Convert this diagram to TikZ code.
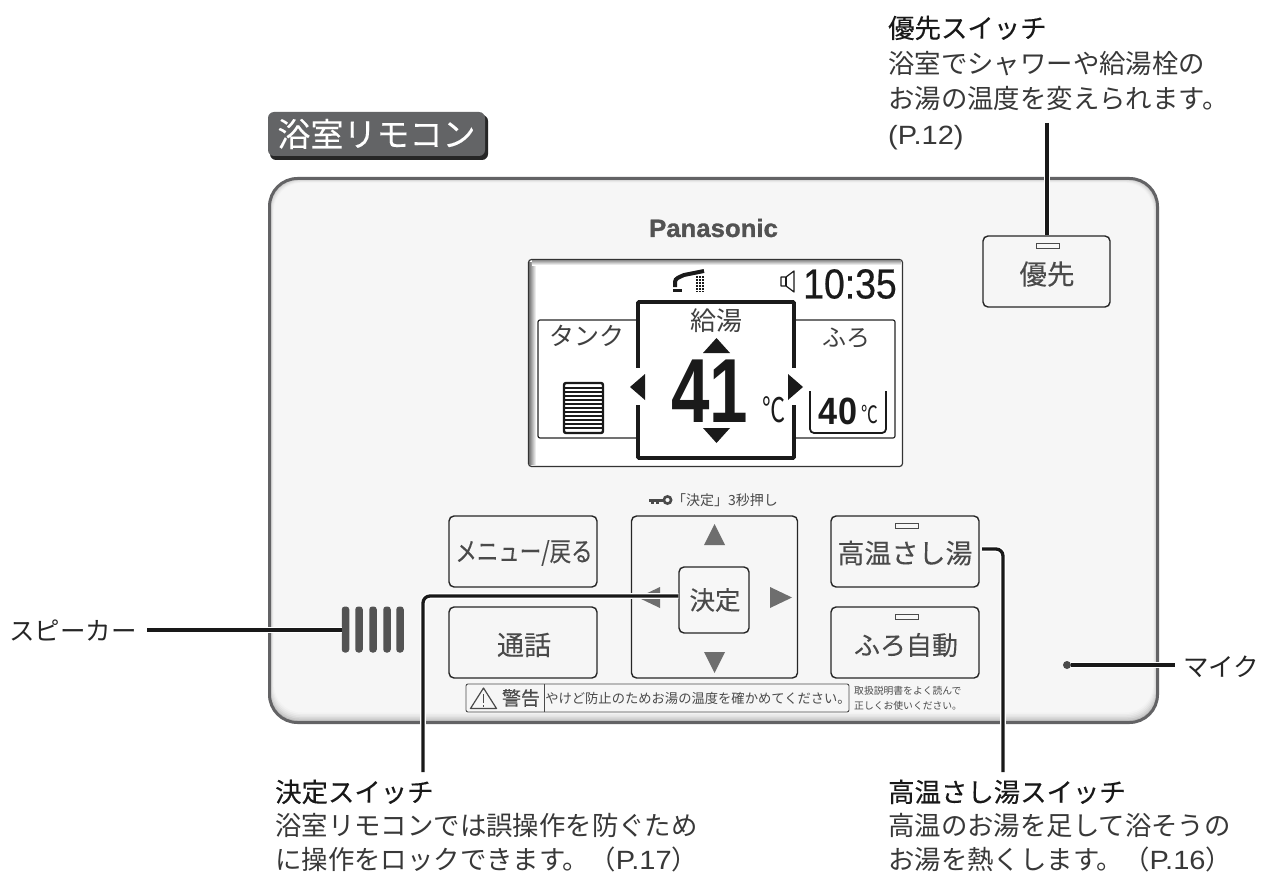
\documentclass[tikz,border=0pt]{standalone}
\usepackage{fontspec}
\usepackage{graphicx}
\setmainfont{Noto Sans CJK JP}
\newfontfamily\jphead[FakeBold=0.2]{Noto Sans CJK JP}
\newfontfamily\jpmid[FakeBold=0.12]{Noto Sans CJK JP}
\newfontfamily\latinsans[BoldFeatures={FakeBold=1.2}]{Liberation Sans}
\newfontfamily\digitsans{Liberation Sans}
\newfontfamily\clocksans[FakeBold=0.5]{Liberation Sans}
\definecolor{panelfill}{HTML}{F7F7F7}
\definecolor{panelline}{HTML}{636365}
\definecolor{ink}{HTML}{4A4A4A}
\definecolor{tabfill}{HTML}{636466}
\definecolor{arrowgray}{HTML}{6E6E6E}
\definecolor{lcdink}{HTML}{1A1A1A}
\newcommand{\fs}[2]{\fontsize{#1}{#2}\selectfont}
\newcommand{\pg}[1]{{\digitsans\scalebox{1.1}[1]{#1}}}
\tikzset{
  btn/.style={draw=black!85,line width=1.4pt,rounded corners=5pt,inner sep=0pt},
  btntxt/.style={inner sep=0pt,text=ink},
  lamp/.style={draw=ink,line width=1pt,fill=panelfill,minimum width=23pt,minimum height=5pt,inner sep=0pt},
  callout/.style={line width=3.3pt,draw=black!90,rounded corners=7pt,preaction={draw=white,line width=5.8pt}},
  captxt/.style={anchor=north west,align=left,inner sep=0pt,text=black!78,font=\fs{26.4}{35.4}},
  captxtlow/.style={captxt,font=\fs{26.4}{34}},
  tri/.style={fill=arrowgray,draw=none},
  ltri/.style={fill=lcdink,draw=none},
  grille/.style={fill=ink!95,draw=none,rounded corners=3pt},
  lcdtxt/.style={inner sep=0pt,text=lcdink},
}
\begin{document}
\begin{tikzpicture}[x=1pt,y=-1pt]
\useasboundingbox (0,0) rectangle (1262,872);
\fill[white] (0,0) rectangle (1262,872);

% title tab
\fill[black!85,rounded corners=6pt] (270,115) rectangle (488,160);
\node[fill=tabfill,rounded corners=6pt,minimum width=217pt,minimum height=44pt,inner sep=0pt,text=white,font=\jphead\fs{33}{33}] (tab) at (376.5,134) {浴室リモコン};

% panel
\fill[black!22,rounded corners=28pt] (269,178) rectangle (1158,723);
\foreach \i/\c in {1/26,2/20,3/15,4/11,5/8,6/5,7/3.5}{
  \fill[black!\c,rounded corners=28pt] (269+\i*0.7,178+\i*0.7) rectangle (1158-\i*0.7,723-\i*1.5);
}
\node[draw=panelline,line width=3pt,rounded corners=28pt,minimum width=888pt,minimum height=544pt,inner sep=0pt] (panel) at (713.5,450.5) {};
\node[lcdtxt,font=\latinsans\bfseries\fs{25}{25},text=black!68] (brand) at (713.5,228) {\scalebox{1.03}[1]{Panasonic}};

% LCD
\node[draw=black!80,line width=1.2pt,fill=white,rounded corners=3pt,minimum width=374pt,minimum height=207pt,inner sep=0pt] (lcd) at (715.5,363) {};
\shade[left color=black!55,right color=white] (529,262) rectangle (536,464);
\shade[top color=black!45,bottom color=white] (532,260) rectangle (901,265);
\draw[black!85,line width=1.2pt,rounded corners=2pt,fill=white] (538,320) rectangle (895,438);
\draw[lcdink,line width=3.6pt,fill=white,rounded corners=1pt] (638,302) rectangle (794,458);
\fill[white] (632,368) rectangle (644,405);
\fill[white] (788,368) rectangle (800,405);
\fill[ltri] (630,387) -- (645,374) -- (645,400) -- cycle;
\fill[ltri] (803,387) -- (788,374) -- (788,400) -- cycle;
\fill[ltri] (716.5,338) -- (730,353) -- (703,353) -- cycle;
\fill[ltri] (716.5,443) -- (730,428) -- (703,428) -- cycle;
\node[lcdtxt,font=\fs{26}{26},text=black!75] (lcdmain) at (716,321) {給湯};
\node[lcdtxt,font=\fs{25}{25},text=black!75] (lcdtank) at (587,336) {タンク};
\node[lcdtxt,font=\fs{24}{24},text=black!75] (lcdbath) at (846,338) {ふろ};
\node[lcdtxt,font=\digitsans\bfseries\fs{91}{91}] (lcdtemp) at (709.5,391) {\scalebox{0.76}[1]{41}};
\node[lcdtxt,font=\fs{34}{34}] (lcddeg) at (774,410) {\scalebox{0.68}[1]{℃}};
\node[lcdtxt,font=\clocksans\fs{42}{42}] (lcdclock) at (850,284) {\scalebox{0.89}[1]{10:35}};
% speaker symbol
\draw[lcdink,line width=1.2pt,line join=round] (781,277) -- (786,277) -- (794,271) -- (794,292) -- (786,286) -- (781,286) -- cycle;
\draw[lcdink,line width=1.2pt] (786,277) -- (786,286);
% shower symbol
\draw[lcdink,line width=4pt] (675,287) -- (675,282) .. controls (675,278) and (680,277) .. (684,275) -- (704,271);
\fill[lcdink] (673,289) rectangle (682,292);
\foreach \xx in {697,700,703}{\draw[lcdink,line width=1.6pt,dash pattern=on 2pt off 1pt] (\xx,276) -- (\xx,292);}
% tank gauge
\draw[lcdink,line width=2.4pt,rounded corners=2pt] (564,383) rectangle (603,433);
\foreach \yy in {388,392,...,430}{\draw[lcdink,line width=1.8pt] (565,\yy) -- (602,\yy);}
% bath gauge
\draw[lcdink,line width=1.8pt,rounded corners=4pt] (810,391) -- (810,433) -- (886,433) -- (886,391);
\node[lcdtxt,font=\digitsans\fs{38}{38}] (lcdset) at (838,411) {\scalebox{0.9}[1]{\textbf{40}}};
\node[lcdtxt,font=\fs{24}{24}] (lcdsetdeg) at (870,414) {\scalebox{0.7}[1]{℃}};

% key note
\node[inner sep=0pt,text=ink,font=\fs{14}{14}] (keynote) at (725,500) {「決定」3秒押し};
\fill[ink] (649,498.5) rectangle (664,502);
\fill[ink] (651,502) rectangle (654,504);
\fill[ink] (656,502) rectangle (659,504);
\draw[ink,line width=2.6pt,fill=panelfill] (667.5,500) circle (3.6pt);

% buttons
\node[btn,minimum width=148pt,minimum height=71pt] (bmenu) at (523,551.5) {};
\node[btn,minimum width=148pt,minimum height=71pt] (btalk) at (523,642.5) {};
\node[btn,minimum width=166pt,minimum height=162pt] (bpad) at (714.5,597) {};
\node[btn,minimum width=70pt,minimum height=66pt,fill=panelfill] (bok) at (714,600) {};
\node[btn,minimum width=148pt,minimum height=71pt] (bhot) at (905,551.5) {};
\node[btn,minimum width=148pt,minimum height=71pt] (bauto) at (905,642.5) {};
\node[btn,minimum width=127pt,minimum height=71pt] (bprio) at (1046.5,271.5) {};
\node[btntxt,font=\jpmid\fs{26.5}{26.5}] (lmenu) at (524,553) {\scalebox{0.81}[1]{メニュー/戻る}};
\node[btntxt,font=\jpmid\fs{27}{27}] (ltalk) at (524,645) {通話};
\node[btntxt,font=\jpmid\fs{25.5}{25.5}] (lok) at (715,600) {決定};
\node[btntxt,font=\jpmid\fs{27}{27}] (lhot) at (905,553) {高温さし湯};
\node[btntxt,font=\jpmid\fs{26}{26}] (lauto) at (906,645) {ふろ自動};
\node[btntxt,font=\jpmid\fs{27.5}{27.5}] (lprio) at (1047,274) {優先};
\node[lamp] (lamphot) at (906.5,525.5) {};
\node[lamp] (lampauto) at (906.5,616.5) {};
\node[lamp] (lampprio) at (1047.5,245.5) {};
\fill[tri] (714.5,524) -- (725,545) -- (704,545) -- cycle;
\fill[tri] (714.5,673) -- (725,652) -- (704,652) -- cycle;
\fill[tri] (792,597.5) -- (770,587) -- (770,608) -- cycle;
\fill[tri] (638,597.5) -- (660,587) -- (660,608) -- cycle;

% warning strip
\node[draw=ink,line width=0.9pt,rounded corners=2pt,minimum width=383pt,minimum height=28pt,inner sep=0pt] (warn) at (657.5,698) {};
\draw[ink,line width=0.9pt] (544,684) -- (544,712);
\draw[ink,line width=1.2pt,line join=round] (483.5,688) -- (496.5,708.5) -- (470.5,708.5) -- cycle;
\fill[ink] (482.6,694) rectangle (484.4,703);
\fill[ink] (482.6,704.5) rectangle (484.4,706.5);
\node[inner sep=0pt,text=ink,font=\jphead\fs{19}{19}] (warnhead) at (521,698) {警告};
\node[inner sep=0pt,text=ink,font=\fs{13.3}{13.3}] (warntext) at (698,698) {やけど防止のためお湯の温度を確かめてください。};
\node[anchor=west,align=left,inner sep=0pt,text=ink,font=\fs{9.8}{15}] (warnnote) at (854,698) {取扱説明書をよく読んで\\正しくお使いください。};

% speaker grille
\foreach \gx/\gn in {345.5/a,359/b,373/c,387/d,400/e}{
  \node[grille,minimum width=7.5pt,minimum height=46pt,inner sep=0pt] (grille\gn) at (\gx,629.5) {};
}
\node[fill=ink,circle,minimum size=8pt,inner sep=0pt] (mic) at (1067,665) {};

% callout texts
\node[captxt] (tprio) at (888,15.5) {{\jphead\color{black!90}優先スイッチ}\\浴室でシャワーや給湯栓の\\お湯の温度を変えられます。\\\pg{(P.12)}};
\node[captxtlow] (tok) at (275,779.5) {{\jphead\color{black!90}決定スイッチ}\\浴室リモコンでは誤操作を防ぐため\\に操作をロックできます。（\pg{P.17}）};
\node[captxtlow] (thot) at (888,779.5) {{\jphead\color{black!90}高温さし湯スイッチ}\\高温のお湯を足して浴そうの\\お湯を熱くします。（\pg{P.16}）};
\node[inner sep=0pt,font=\fs{25.5}{25.5},text=black!85] (tspk) at (73,631) {スピーカー};
\node[inner sep=0pt,font=\fs{25.5}{25.5},text=black!85] (tmic) at (1221,667) {マイク};

% connectors
\coordinate (cprio) at (1047,123);
\coordinate (cok) at (423,772);
\coordinate (chot) at (1003,772);
\coordinate (cspk) at (147,630);
\coordinate (cmic) at (1175,665);
\draw[callout] (cprio) -- (bprio.north -| cprio);
\draw[callout] (bok.west |- 0,596) -- (423,596) -- (cok);
\draw[callout] (982,549) -- (1003,549) -- (chot);
\draw[callout] (cspk) -- (grillea.west |- cspk);
\draw[callout] (mic.east) -- (cmic);
\end{tikzpicture}
\end{document}
